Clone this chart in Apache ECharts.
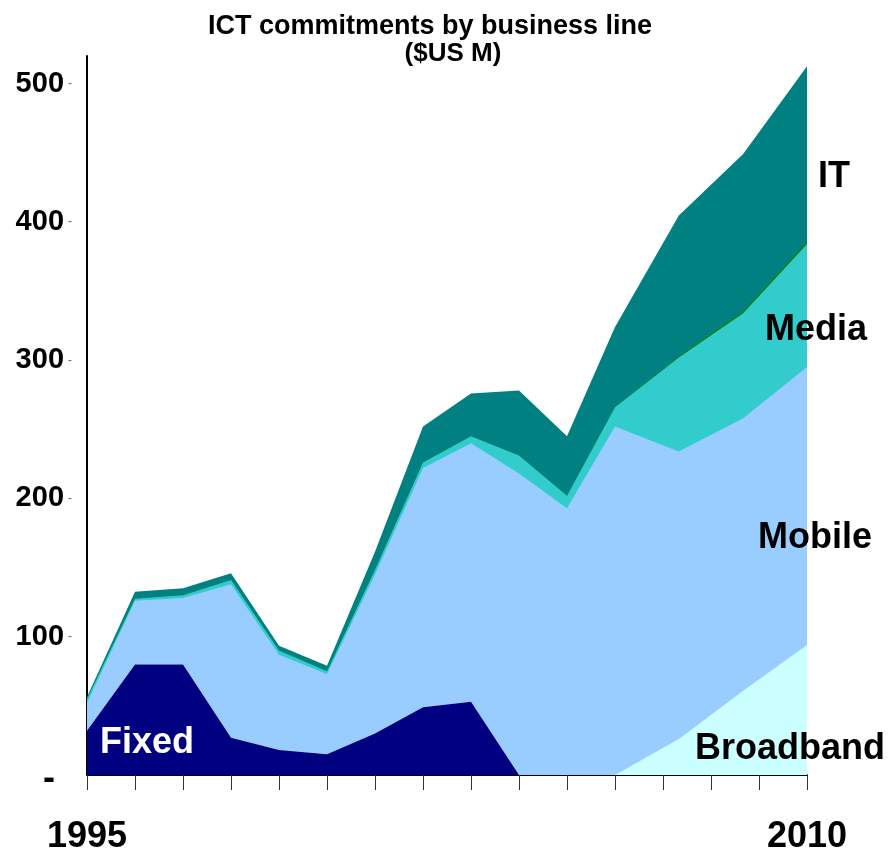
<!DOCTYPE html>
<html>
<head>
<meta charset="utf-8">
<title>ICT commitments by business line</title>
<script src="https://cdn.jsdelivr.net/npm/echarts@6/dist/echarts.min.js"></script>
<style>
  html, body { margin: 0; padding: 0; background: #fff; }
  #chart { width: 893px; height: 855px; }
</style>
</head>
<body>
<div id="chart"></div>
<script>
// x positions of the points (the last three are spread over 2006-2010 as in the source)
const years = [1995, 1996, 1997, 1998, 1999, 2000, 2001, 2002, 2003, 2004, 2005, 2006, 2007.33, 2008.67, 2010]
const xTickLabels = ['1995', '2010']
const yTicks = [0, 100, 200, 300, 400, 500]

// $US M
const fixed = [32, 80, 80, 27, 18, 15, 30, 49, 53, 0, 0, 0, 0, 0, 0]
const broadband = [0, 0, 0, 0, 0, 0, 0, 0, 0, 0, 0, 0, 26, 61, 94]
const mobile = [20, 46, 48, 111, 69, 58, 115, 173, 187, 218, 193, 252, 208, 197, 201]
const media = [3, 1.5, 2, 3, 3, 2, 3.5, 4, 5, 13, 9, 14, 68, 76, 89]
const other = [0, 0, 0, 0, 0, 0, 0, 0, 0, 0, 0, 0, 0.7, 1.2, 1.5]
const it = [1.5, 5, 5, 5, 3.5, 4, 13, 26, 31, 47, 43, 58, 102, 114, 127]

const FONT = '"Liberation Sans", Arial, sans-serif'

const chart = echarts.init(document.getElementById('chart'))

// stack bottom-up by hand, then draw the tallest band first so lower ones sit on top
const layers = [
  { name: 'Fixed', values: fixed, color: '#000080' },
  { name: 'Broadband', values: broadband, color: '#CCFFFF' },
  { name: 'Mobile', values: mobile, color: '#99CCFF' },
  { name: 'Media', values: media, color: '#33CCCC' },
  { name: 'Other', values: other, color: '#008000' },
  { name: 'IT', values: it, color: '#008080' },
]
let running = years.map(() => 0)
const series = layers.map((l) => {
  running = running.map((r, i) => r + l.values[i])
  return {
    name: l.name,
    type: 'line',
    symbol: 'none',
    lineStyle: { width: 0 },
    areaStyle: { color: l.color, opacity: 1, origin: 'start' },
    itemStyle: { color: l.color },
    data: running.map((v, i) => [years[i], v]),
  }
}).reverse()

function seriesLabel(text, x, y, color) {
  return {
    type: 'text',
    left: x,
    top: y,
    z: 100,
    style: { text: text, fill: color, font: 'bold 36px ' + FONT },
  }
}

const option = {
  animation: false,
  title: [
    {
      text: 'ICT commitments by business line',
      left: 425,
      top: 8,
      textAlign: 'center',
      textStyle: { fontFamily: FONT, fontSize: 27, fontWeight: 'bold', color: '#000' },
    },
    {
      text: '($US M)',
      left: 448,
      top: 36,
      textAlign: 'center',
      textStyle: { fontFamily: FONT, fontSize: 26, fontWeight: 'bold', color: '#000' },
    },
  ],
  grid: {
    left: 87,
    right: 86,
    top: 56,
    bottom: 77,
  },
  xAxis: {
    type: 'value',
    min: 1995,
    max: 2010,
    interval: 1,
    splitLine: { show: false },
    axisLine: { onZero: false, lineStyle: { color: '#000', width: 2 } },
    axisTick: { show: true, length: 15, lineStyle: { color: '#333', width: 1 } },
    axisLabel: {
      margin: 44,
      fontFamily: FONT,
      fontSize: 36,
      fontWeight: 'bold',
      color: '#000',
      formatter: (v) => xTickLabels.includes(String(v)) ? String(v) : '',
    },
  },
  yAxis: {
    type: 'value',
    min: 0,
    max: 520,
    interval: 100,
    splitLine: { show: false },
    axisLine: { show: true, lineStyle: { color: '#000', width: 2 } },
    axisTick: { show: false },
    axisLabel: {
      margin: 15,
      formatter: (v) => yTicks.includes(v) ? (v === 0 ? '{z|-}' : '{v|' + v + '}{d|-}') : '',
      rich: {
        v: { fontFamily: FONT, fontSize: 29, fontWeight: 'bold', color: '#000' },
        d: { fontFamily: FONT, fontSize: 12, color: '#666', padding: [0, 0, 0, 4] },
        z: { fontFamily: FONT, fontSize: 36, fontWeight: 'bold', color: '#000', padding: [8, 17, 0, 0] },
      },
    },
  },
  series: series,
  graphic: [
    seriesLabel('IT', 818, 159, '#000'),
    seriesLabel('Media', 765, 312, '#000'),
    seriesLabel('Mobile', 758, 520, '#000'),
    seriesLabel('Broadband', 695, 731, '#000'),
    seriesLabel('Fixed', 100, 725, '#fff'),
  ],
}

chart.setOption(option)
</script>
</body>
</html>
